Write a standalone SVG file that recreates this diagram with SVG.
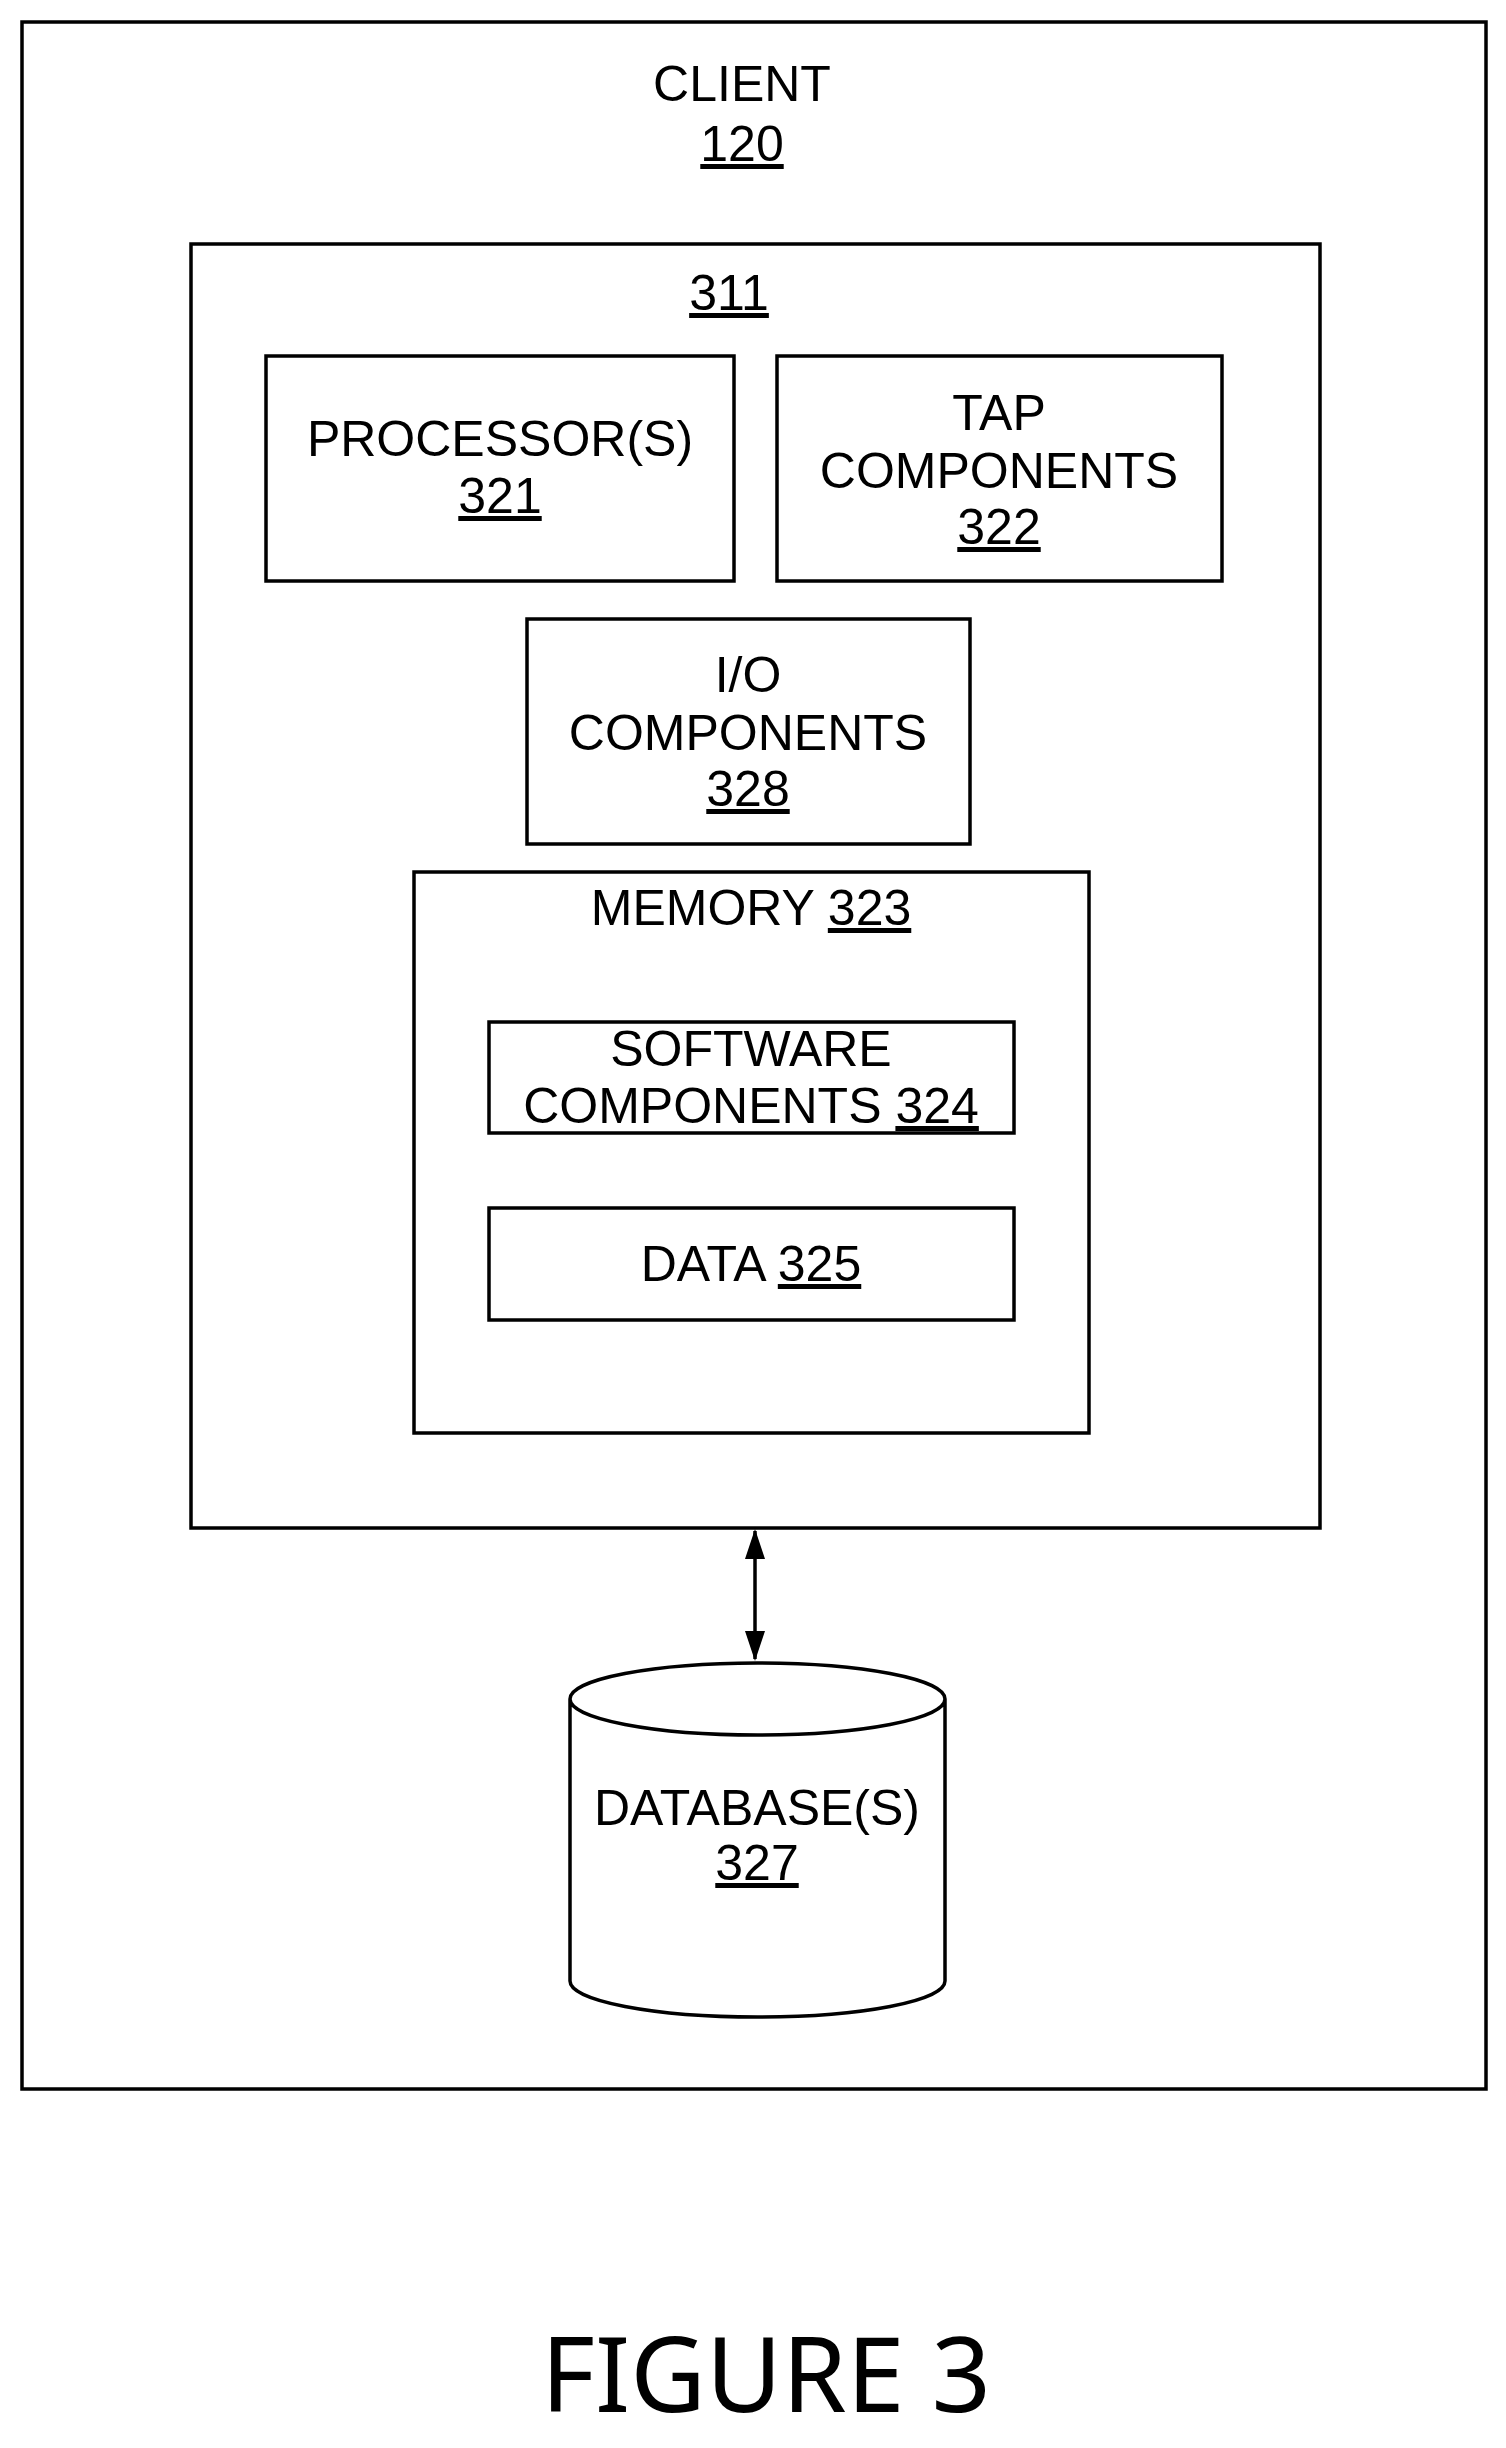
<svg xmlns="http://www.w3.org/2000/svg" width="1506" height="2448" viewBox="0 0 1506 2448">
<style>
.b{fill:none;stroke:#000;stroke-width:3.5}
text{font-family:"Liberation Sans",Arial,sans-serif;font-size:50px;text-anchor:middle;fill:#000}
.u{text-decoration:underline}
</style>
<defs>
<marker id="ah" markerWidth="30" markerHeight="20" refX="28" refY="10" orient="auto-start-reverse" markerUnits="userSpaceOnUse" viewBox="0 0 30 20"><path d="M0,0 L30,10 L0,20 z" fill="#000"/></marker>
</defs>
<rect x="0" y="0" width="1506" height="2448" fill="#fff"/>
<g id="client"><rect class="b" x="22" y="22" width="1464" height="2067"/>
<text x="742" y="101">CLIENT</text><text x="742" y="161" class="u">120</text></g>
<g id="n311"><rect class="b" x="191" y="244" width="1129" height="1284"/>
<text x="729" y="310" class="u">311</text></g>
<g id="proc"><rect class="b" x="266" y="356" width="468" height="225"/>
<text x="500" y="456">PROCESSOR(S)</text><text x="500" y="513" class="u">321</text></g>
<g id="tap"><rect class="b" x="777" y="356" width="445" height="225"/>
<text x="999" y="430">TAP</text><text x="999" y="488">COMPONENTS</text><text x="999" y="544" class="u">322</text></g>
<g id="io"><rect class="b" x="527" y="619" width="443" height="225"/>
<text x="748" y="692">I/O</text><text x="748" y="750">COMPONENTS</text><text x="748" y="806" class="u">328</text></g>
<g id="mem"><rect class="b" x="414" y="872" width="675" height="561"/>
<text x="751" y="925">MEMORY <tspan class="u">323</tspan></text></g>
<g id="sw"><rect class="b" x="489" y="1022" width="525" height="111"/>
<text x="751" y="1066">SOFTWARE</text><text x="751" y="1123">COMPONENTS  <tspan class="u">324</tspan></text></g>
<g id="data"><rect class="b" x="489" y="1208" width="525" height="112"/>
<text x="751" y="1281">DATA <tspan class="u">325</tspan></text></g>
<g id="db">
<path class="b" d="M570,1699 A187.5,36 0 0 1 945,1699 L945,1981 A187.5,36 0 0 1 570,1981 Z M570,1699 A187.5,36 0 0 0 945,1699"/>
<text x="757" y="1825">DATABASE(S)</text><text x="757" y="1880" class="u">327</text></g>
<g id="connectors"><line class="b" x1="755" y1="1531" x2="755" y2="1659" marker-start="url(#ah)" marker-end="url(#ah)"/></g>
<text x="766" y="2412" style="font-family:'Noto Sans','Open Sans',sans-serif;font-size:104px">FIGURE 3</text>
</svg>
